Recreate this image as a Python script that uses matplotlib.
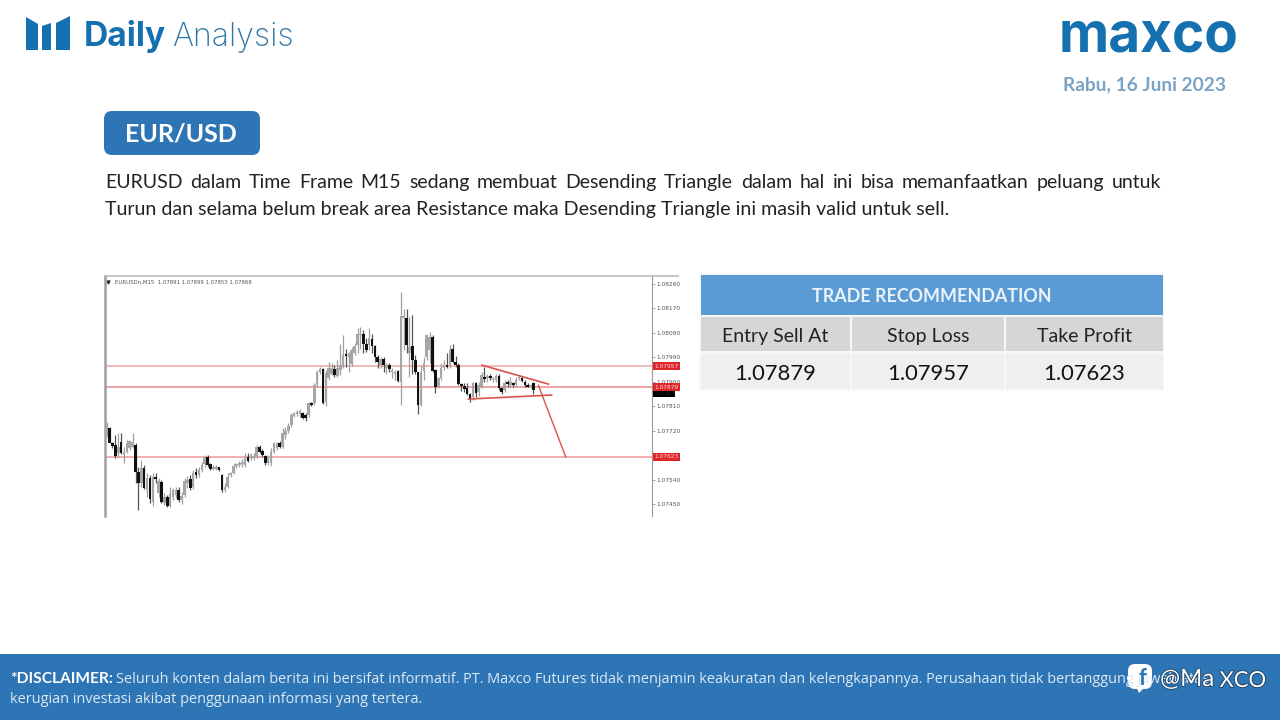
import numpy as np
import matplotlib
matplotlib.use("Agg")
import matplotlib.pyplot as plt
from matplotlib.patches import FancyBboxPatch, Polygon, Rectangle
import matplotlib.patheffects as pe

# candle values in 1e-5 price points
highs = [107753,107734,107679,107704,107710,107710,107661,107685,107685,107710,
107673,107587,107612,107593,107563,107557,107563,107563,107544,107538,
107489,107483,107514,107508,107514,107514,107495,107544,107553,107557,
107575,107581,107587,107606,107630,107630,107600,107593,107593,107587,
107560,107526,107563,107569,107600,107602,107609,107614,107639,107636,
107639,107636,107667,107667,107651,107630,107630,107655,107679,107679,
107683,107728,107734,107747,107783,107789,107796,107798,107789,107783,
107826,107826,107894,107943,107955,107949,107943,107973,107967,107961,
107979,108038,108071,108022,108010,108028,108041,108099,108102,108090,
108059,108096,108077,108034,107998,107992,107992,107967,107967,107949,
107943,107943,108230,108169,108169,108138,108145,107998,107936,107961,
107992,108077,108083,108071,107945,107918,107967,107979,108004,108034,
108038,107994,107967,107894,107894,107894,107859,107900,107900,107900,
107936,107955,107928,107927,107918,107928,107928,107881,107906,107908,
107918,107900,107918,107920,107918,107906,107894,107891,107900]
body_tops = [107734,107728,107673,107667,107661,107679,107642,107673,107682,107679,
107667,107566,107581,107581,107544,107544,107551,107548,107536,107532,
107477,107475,107487,107502,107502,107502,107481,107536,107538,107541,
107565,107568,107575,107593,107622,107622,107596,107587,107587,107585,
107557,107514,107551,107563,107591,107596,107602,107606,107622,107624,
107629,107626,107661,107661,107646,107626,107624,107642,107676,107676,
107676,107710,107718,107738,107777,107783,107789,107791,107786,107777,
107820,107822,107887,107936,107946,107945,107933,107949,107949,107947,
107949,107961,107998,108001,108004,108016,108031,108075,108075,108075,
108038,108059,108056,108031,107989,107985,107983,107961,107961,107943,
107936,107939,108141,108141,108136,108028,108031,107979,107936,107936,
107967,108071,108065,108063,107943,107912,107949,107961,107963,108016,
108020,107973,107963,107890,107885,107875,107854,107894,107896,107887,
107924,107918,107920,107920,107912,107922,107920,107875,107896,107900,
107900,107894,107908,107916,107914,107900,107887,107887,107894]
body_bottoms = [107710,107676,107663,107626,107636,107639,107630,107642,107655,107661,
107566,107526,107526,107508,107502,107467,107459,107541,107489,107459,
107455,107443,107443,107477,107483,107465,107465,107483,107526,107508,
107514,107557,107557,107575,107597,107593,107579,107579,107580,107575,
107502,107502,107511,107557,107565,107590,107593,107597,107593,107609,
107618,107618,107624,107642,107630,107600,107600,107600,107642,107655,
107661,107661,107704,107720,107740,107774,107781,107781,107767,107765,
107777,107816,107822,107887,107936,107822,107826,107912,107930,107924,
107920,107943,107955,107994,107989,107965,108004,108034,108071,108038,
108016,108034,108031,107989,107973,107961,107961,107949,107946,107936,
107930,107902,107900,108136,108034,108004,107979,107936,107814,107814,
107939,107989,108016,107939,107879,107879,107912,107949,107955,107955,
107973,107961,107890,107885,107873,107854,107838,107845,107860,107863,
107881,107909,107912,107912,107906,107908,107875,107863,107869,107890,
107887,107887,107891,107912,107903,107887,107881,107881,107869]
lows = [107698,107673,107655,107618,107624,107634,107600,107636,107649,107655,
107526,107428,107514,107504,107477,107453,107443,107526,107477,107453,
107446,107438,107438,107465,107471,107459,107449,107477,107508,107502,
107504,107544,107551,107569,107587,107587,107575,107575,107575,107571,
107495,107495,107508,107551,107560,107581,107587,107587,107587,107606,
107612,107612,107618,107636,107624,107593,107593,107590,107636,107649,
107655,107655,107691,107710,107734,107771,107774,107771,107761,107756,
107771,107810,107814,107881,107930,107818,107810,107906,107924,107918,
107916,107924,107949,107955,107936,107957,107998,108004,108022,108006,
108010,108016,108004,107973,107949,107952,107936,107930,107936,107912,
107906,107900,107814,108016,108004,107918,107930,107930,107781,107810,
107906,107979,107967,107936,107857,107875,107906,107943,107949,107949,
107967,107955,107887,107867,107863,107851,107826,107832,107845,107847,
107875,107900,107900,107906,107900,107900,107871,107854,107863,107881,
107881,107881,107884,107906,107900,107881,107879,107875,107854]
directions = ("uddduduuuu" "ddudududud" "uduuuduuud" "uduuudduud" "duuuuuuuud"
              "uuuddduuuu" "duuuuuuudd" "uduuuduuud" "uuuduuuuud" "dudddududu"
              "uduududddu" "uuudduuudu" "dddddddudu" "ududuuddud" "uduudddud")

levels = [1.07957, 1.07879, 1.07623]
level_names = ["1.07957", "1.07879", "1.07623"]
price_ticks = [1.08260, 1.08170, 1.08080, 1.07990, 1.07900, 1.07810, 1.07720, 1.07540, 1.07450]

# trendlines as (candle index, price)
upper_line = ([130.1, 153.2], [1.07961, 1.07891])
lower_line = ([125.4, 154.3], [1.07836, 1.07851])
target_line = ([149.7, 159.2], [1.07887, 1.07623])

columns = ["Entry Sell At", "Stop Loss", "Take Profit"]
values = ["1.07879", "1.07957", "1.07623"]

para1 = "EURUSD dalam Time Frame M15 sedang membuat Desending Triangle dalam hal ini bisa memanfaatkan peluang untuk"
para2 = "Turun dan selama belum break area Resistance maka Desending Triangle ini masih valid untuk sell."
disc1 = ("Seluruh konten dalam berita ini bersifat informatif. PT. Maxco Futures tidak menjamin keakuratan "
         "dan kelengkapannya. Perusahaan tidak bertanggung jawab atas")
disc2 = "kerugian investasi akibat penggunaan informasi yang tertera."

BLUE = "#2E75B6"
LOGO = "#1470AE"
plt.rcParams["font.family"] = ["Lato", "DejaVu Sans"]

fig = plt.figure(figsize=(12.8, 7.2), dpi=100, facecolor="white")
bg = fig.add_axes([0, 0, 1, 1])
bg.set_xlim(0, 1280)
bg.set_ylim(720, 0)
bg.axis("off")


def px(size):
    return size * 0.72


# header logo
for pts in ([(26, 17), (38, 24), (38, 50), (26, 50)],
            [(42, 26), (51, 23), (51, 50), (42, 50)],
            [(56, 23), (70, 16), (70, 50), (56, 50)]):
    bg.add_patch(Polygon(pts, color=LOGO, lw=0))
bg.text(84, 46, "Daily", fontsize=px(33.5), fontweight="bold", color=LOGO, family="Inter")
bg.text(172, 46, "Analysis", fontsize=px(32), color="#2F75A5", family="Inter", fontweight="light")
bg.text(1059, 52, "maxco", fontsize=px(55), fontweight="bold", color=LOGO, family="Inter")
bg.text(1226, 90, "Rabu, 16 Juni 2023", fontsize=px(19.2), fontweight="bold", color="#7BA3C6", ha="right")

# title pill and paragraph
bg.add_patch(FancyBboxPatch((108, 115), 148, 36, boxstyle="round,pad=4,rounding_size=8",
                            fc=BLUE, ec="none"))
bg.text(181, 142, "EUR/USD", fontsize=px(25), fontweight="bold", color="white", ha="center")

renderer = fig.canvas.get_renderer()
words = para1.split()
word_w = []
for w in words:
    t = bg.text(0, 0, w, fontsize=px(19.5))
    word_w.append(t.get_window_extent(renderer).width)
    t.remove()
gap = (1161 - 105 - sum(word_w)) / (len(words) - 1)
x = 105
for w, ww in zip(words, word_w):
    bg.text(x, 188, w, fontsize=px(19.5), color="#222222")
    x += ww + gap
bg.text(105, 215, para2, fontsize=px(19.7), color="#222222")

# table
bg.add_patch(Rectangle((699, 273), 465, 118, fc="#F7F7F7", ec="none"))
bg.add_patch(Rectangle((701, 275), 462, 40, fc="#5B9BD5", ec="none"))
bg.text(932, 302, "TRADE RECOMMENDATION", fontsize=px(17.9), fontweight="bold", color="#EAF2FA", ha="center")
col_x = [(701, 850), (852, 1004), (1006, 1163)]
for (x0, x1), name, val in zip(col_x, columns, values):
    bg.add_patch(Rectangle((x0, 317), x1 - x0, 34, fc="#D6D6D6", ec="none"))
    bg.add_patch(Rectangle((x0, 354), x1 - x0, 35, fc="#EFEFEF", ec="none"))
    bg.text((x0 + x1) / 2, 342, name, fontsize=px(19.5), color="#222222", ha="center")
    bg.text((x0 + x1) / 2, 380, val, fontsize=px(22), color="#111111", ha="center")

# footer
bg.add_patch(Rectangle((0, 654), 1280, 66, fc=BLUE, ec="none"))
bg.text(10, 683, "*DISCLAIMER:", fontsize=px(15.5), fontweight="bold", color="white")
bg.text(116, 683, disc1, fontsize=px(14.55), color="#DCE9F5", family="Open Sans")
bg.text(10, 703, disc2, fontsize=px(14.55), color="#DCE9F5", family="Open Sans")
bg.add_patch(FancyBboxPatch((1132, 668), 16, 17, boxstyle="round,pad=4,rounding_size=7", fc="white", ec="none"))
bg.add_patch(Polygon([(1136, 686), (1143, 689), (1139, 693)], color="white", lw=0))
bg.text(1142, 685, "f", fontsize=px(22), fontweight="bold", color=BLUE, ha="center")
shadow = [pe.withStroke(linewidth=1.2, foreground="#1C3F60")]
bg.text(1160, 686, "@Ma", fontsize=px(24), color="white", path_effects=shadow)
bg.text(1266, 687, "XCO", fontsize=px(22), color="white", ha="right", path_effects=shadow)

# candlestick panel
ax = fig.add_axes([105 / 1280, 1 - 516 / 720, (652 - 105) / 1280, (516 - 277) / 720])
n = len(highs)
idx = np.arange(n)
hi = np.array(highs) / 1e5
lo = np.array(lows) / 1e5
top = np.array(body_tops) / 1e5
bot = np.array(body_bottoms) / 1e5
down = np.array([c == "d" for c in directions])
ax.set_xlim(-0.58, 189.1)
ax.set_ylim(1.07406, 1.08285)
for lev, col in zip(levels, ("#F0A6A6", "#E88A8A", "#EE9A9A")):
    ax.axhline(lev, color=col, lw=1.1, zorder=1)
ax.vlines(idx[~down], lo[~down], hi[~down], color="#A0A0A0", lw=0.9, zorder=2)
ax.vlines(idx[down], lo[down], hi[down], color="#555555", lw=0.9, zorder=2)
ax.bar(idx[~down], (top - bot)[~down], bottom=bot[~down], width=0.9, color="#A6A6A6", zorder=3)
ax.bar(idx[down], (top - bot)[down], bottom=bot[down], width=0.9, color="#111111", zorder=3)
for line, lw in ((upper_line, 1.2), (lower_line, 1.2), (target_line, 1.0)):
    ax.plot(line[0], line[1], color="#D9534F", lw=lw, zorder=4)
ax.yaxis.tick_right()
ax.set_yticks(price_ticks)
ax.set_yticklabels([f"{p:.5f}" for p in price_ticks], fontsize=4.2, color="#555555", family="DejaVu Sans")
ax.tick_params(axis="y", length=2, width=0.5, color="#888888", pad=1)
ax.set_xticks([])
ax.spines["bottom"].set_visible(False)
ax.spines["right"].set_color("#999999")
ax.spines["right"].set_linewidth(0.8)
ax.spines["left"].set_color("#A0A0A0")
ax.spines["left"].set_linewidth(1.8)
ax.spines["top"].set_visible(False)
bg.plot([105, 678], [276, 276], color="#C8C8C8", lw=1.5)
ax.text(0.018, 0.978, "EURUSDn,M15  1.07891 1.07899 1.07853 1.07868", transform=ax.transAxes,
        fontsize=3.9, color="#555555", va="center", family="DejaVu Sans")
ax.plot([0.006], [0.978], marker="v", ms=2.2, color="#333333", transform=ax.transAxes, clip_on=False)
trans = ax.get_yaxis_transform()
ax.text(1.004, 1.07858, "1.07868", transform=trans, fontsize=3.5, color="#222222", va="center", ha="left",
        family="DejaVu Sans", clip_on=False, bbox=dict(boxstyle="square,pad=0.2", fc="black", ec="none"), zorder=5)
for lev, name in zip(levels, level_names):
    ax.text(1.004, lev, name, transform=trans, fontsize=4.2, color="#FFD9D9", va="center", ha="left",
            family="DejaVu Sans", clip_on=False,
            bbox=dict(boxstyle="square,pad=0.25", fc="#E0262B", ec="none"), zorder=6)

fig.savefig("out.png", dpi=100)
